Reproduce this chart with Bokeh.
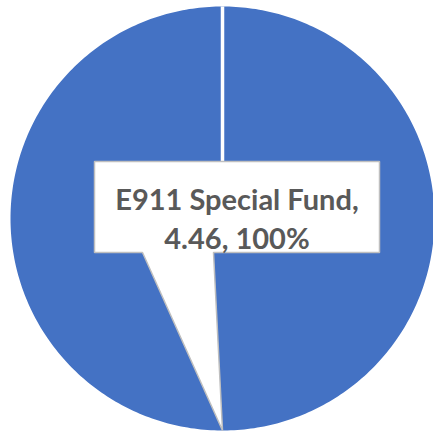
import numpy as np
from bokeh.plotting import figure
from bokeh.models import Range1d, ColumnDataSource
from bokeh.core.properties import value
from bokeh.embed import file_html
from bokeh.resources import INLINE

# ---- data ----
categories = ["E911 Special Fund"]
values = [4.46]
colors = ["#4472C4"]

W, H = 433, 432
p = figure(width=W, height=H, output_backend="svg", toolbar_location=None,
           x_range=Range1d(0, W), y_range=Range1d(0, H), min_border=0,
           outline_line_color=None, background_fill_color="white")
p.axis.visible = False
p.grid.visible = False

# pie geometry (pixel layout)
cx, cy, r = 222, H - 218, 212

total = sum(values)
fracs = [v / total for v in values]
starts, ends = [], []
acc = 0.0
for f in fracs:
    starts.append(np.pi / 2 - 2 * np.pi * acc)
    acc += f
    ends.append(np.pi / 2 - 2 * np.pi * acc)

# draw slices as polygons computed from data angles
for s, e, c in zip(starts, ends, colors):
    t = np.linspace(s, e, 400)
    xs = np.concatenate([[cx], cx + r * np.cos(t), [cx]])
    ys = np.concatenate([[cy], cy + r * np.sin(t), [cy]])
    p.patch(xs, ys, fill_color=c, line_color=None)
# slice borders
for s in starts:
    p.segment(x0=[cx], y0=[cy], x1=[cx + r * np.cos(s)], y1=[cy + r * np.sin(s)],
              line_color="white", line_width=3.5)

# callout box with pointer
bx0, bx1, by0, by1 = 94, 379, H - 252, H - 161
px0, px1 = 142, 213
tipx, tipy = cx, cy - r
p.patch([bx0, bx1, bx1, px1, tipx, px0, bx0, bx0],
        [by1, by1, by0, by0, tipy, by0, by0, by1],
        fill_color="white", line_color="#BFBFBF", line_width=1.5)

# label text
lines1 = [f"{c}," for c in categories]
lines2 = [f"{v:.2f}, {round(f*100)}%" for v, f in zip(values, fracs)]
tx = 236.5
src = ColumnDataSource(dict(x=[tx, tx], y=[H - 198, H - 237], t=[lines1[0], lines2[0]]))
p.text(x="x", y="y", text="t", source=src, text_font=value("Lato"),
       text_font_style="bold", text_font_size="29px", text_color="#595959",
       text_align="center", text_baseline="alphabetic")

open("out.html", "w").write(file_html(p, INLINE))
